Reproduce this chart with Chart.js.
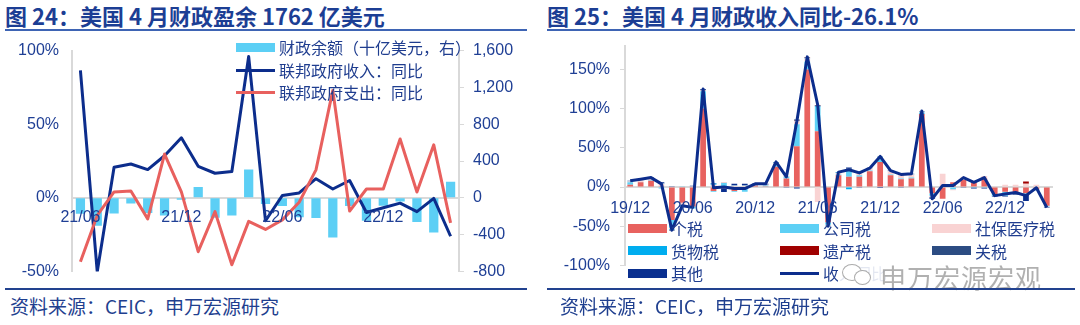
<!DOCTYPE html>
<html>
<head>
<meta charset="utf-8">
<script src="https://cdn.jsdelivr.net/npm/chart.js@4.4.1/dist/chart.umd.min.js"></script>
<style>
  html, body { margin: 0; padding: 0; background: #fff; width: 1080px; height: 325px; overflow: hidden;
    font-family: "Noto Sans CJK SC", "Noto Sans", sans-serif; }
  .title { position: absolute; top: -1px; font-weight: bold; font-size: 22px; color: #1C3E94; white-space: nowrap; }
  .rule { position: absolute; top: 29px; height: 2px; background: #3E64B4; }
  .foot { position: absolute; top: 288px; height: 2px; background: #22428F; }
  .src { position: absolute; top: 292px; font-size: 19px; color: #1F3F8F; white-space: nowrap; }
  canvas { position: absolute; top: 0; }
  .lg { position: absolute; font-size: 16px; color: #1F3D8F; white-space: nowrap; line-height: 20px; }
  .sw { position: absolute; left: 0; width: 39px; }
  .lt { position: absolute; left: 43px; top: -10px; }
  .wm { position: absolute; left: 838px; top: 261px; width: 212px; height: 27px; background: rgba(255,255,255,0.88); }
  .wm span { position: absolute; left: 42px; top: -3px; font-size: 26px; color: rgba(150,150,150,0.75); letter-spacing: 1px; }
  .wm i { position: absolute; border: 1.5px solid rgba(150,150,150,0.8); border-radius: 50%; background: #fff; }
</style>
</head>
<body>
<div class="title" style="left:5px">图 24：美国 4 月财政盈余 1762 亿美元</div>
<div class="rule" style="left:5px;width:522px"></div>
<div class="title" style="left:547px">图 25：美国 4 月财政收入同比-26.1%</div>
<div class="rule" style="left:547px;width:528px"></div>

<canvas id="c24" width="540" height="290" style="left:0"></canvas>
<canvas id="c25" width="540" height="290" style="left:540px"></canvas>
<div id="lg24"></div>
<div id="lg25"></div>

<div class="wm"><i style="left:4px;top:3px;width:18px;height:15px"></i><i style="left:16px;top:9px;width:15px;height:13px"></i><span>申万宏源宏观</span></div>

<div class="foot" style="left:5px;width:522px"></div>
<div class="foot" style="left:547px;width:528px"></div>
<div class="src" style="left:10px">资料来源：CEIC，申万宏源研究</div>
<div class="src" style="left:560px">资料来源：CEIC，申万宏源研究</div>

<script>
// ---------- 图24 财政余额与收支同比 ----------
const months24 = ['21/06','21/07','21/08','21/09','21/10','21/11','21/12',
  '22/01','22/02','22/03','22/04','22/05','22/06','22/07','22/08','22/09','22/10','22/11','22/12',
  '23/01','23/02','23/03','23/04'];
// 财政余额（十亿美元）
const balance = [-174,-303,-171,-62,-165,-191,-21,119,-217,-193,308,-66,-89,-211,-220,-430,-88,-249,-85,-39,-262,-378,176];
// 联邦政府收入同比（%）
const revenueYoY = [86.6,-50.2,20.8,23,19.2,28.6,40.8,21.4,16.7,17.9,96,-15.6,1.6,3.3,13,6,11.8,-10,-6.7,-3.6,-9.4,-0.4,-26.1];
// 联邦政府支出同比（%）
const outlayYoY = [-43.5,-12,4,4.7,-14.3,29.7,4,-36.6,-9.4,-45.5,-16,-21.5,-15,-3,19,73,-9,6,6,40,4,36,-17];
const names24 = ['财政余额（十亿美元，右）','联邦政府收入：同比','联邦政府支出：同比'];

// ---------- 图25 财政收入同比及分项拉动 ----------
const months25 = ['19/12','20/01','20/02','20/03','20/04','20/05','20/06','20/07','20/08','20/09','20/10','20/11','20/12',
  '21/01','21/02','21/03','21/04','21/05','21/06','21/07','21/08','21/09','21/10','21/11','21/12',
  '22/01','22/02','22/03','22/04','22/05','22/06','22/07','22/08','22/09','22/10','22/11','22/12',
  '23/01','23/02','23/03','23/04'];
const indivTax  = [3,6,8,1,-42,-20,-25,100,-5,-2,-5,-1,2,1,26,11,52,150,71,-45,15,13,13,20,32,15,10,11,93,-8,-15,6,9,5,11,-9,-6,-8,-8,-3,-24];
const corpTax   = [3,0.5,0.5,-2,-10,1,-2,22,-1,5,-1,-5,1,1,3,2,28,10,31,-3,1,9,2,1,6,1,1,1,2,-3,0,-3,-0.5,2,-1,-2,-5,-1,-1,-1,-1];
const socialTax = [1,2,2,3,-2,-3,1,1,3,1,1.5,1.5,0.5,1,1.5,0.5,4,4,-19,-1,2,1,3,3,0.5,4,5,4,1,-2,17,-1,4,1,3,1,3,3,4,3,-0.5];
const exciseTax = [0.5,0.5,0.5,0.5,-1,-1,-0.5,0.5,1.5,-0.5,0.5,0.5,-0.5,0,0.5,-0.5,0.5,1,1,-0.5,0.5,-3,0,0.3,0.3,0.3,0,0.3,0.3,0,0,0,0,-1,0,0,0,0,0,0,0];
const estateTax = [0,0.2,0.2,0,0,0,0,0.3,0,0,0,0,0,0,0,0,0.5,0.5,0.5,0,0,0,0,0,0,0,0,0,0,0,0,0,0,0,0,0,0,0,3,0,0];
const customs   = [0.3,0.3,0.3,0.3,-0.5,-0.5,0,0.2,0.2,0.3,0.3,0.3,0.3,0.5,0.5,0.3,1,0.5,0.5,0,0.3,0.5,0.3,0.3,0.3,0.3,0.3,0.3,0.3,0,0,0,0,0,0,0,-0.5,-0.5,-1,0,0];
const otherTax  = [0.2,0.5,0.5,1.2,1,-0.5,0.5,1,0.3,-3.8,1.7,1.7,0.7,0.5,0.5,-0.3,-2,0,0.5,-0.5,0.2,1.5,-0.3,-0.6,-0.1,0.4,-0.3,0.4,0.4,-2,0,0,-0.5,-1,-1,-1,-0.5,-0.5,-8,0,-0.6];
const totalYoY  = [8,10,12,4,-55,-24,-26,125,-1,0,-2,-2,4,4,32,13,84,166,105,-50,19,22,18,24,39,21,16,17,97,-15,2,2,12,6,12,-11,-9,-7,-11,-1,-26.1];
const names25 = ['个税','公司税','社保医疗税','货物税','遗产税','关税','其他','收入同比'];

// ---------- shared style ----------
Chart.defaults.font.family = '"Liberation Sans", Arial, sans-serif';
Chart.defaults.font.size = 16;
Chart.defaults.color = '#1F3F95';
Chart.defaults.animation = false;

const AXIS_GREY = '#D9D9D9';
const NAVY = '#0C2D8C';
const RED = '#E8605E';
const CYAN = '#5CCFF5';
const pct = v => v + '%';

function fixWidth(w) { return scale => { scale.width = w; }; }

// ---------- chart 24 ----------
new Chart(document.getElementById('c24'), {
  data: {
    labels: months24,
    datasets: [
      { type: 'bar', label: names24[0], data: balance, yAxisID: 'y1', backgroundColor: CYAN,
        barPercentage: 0.55, categoryPercentage: 1, order: 3 },
      { type: 'line', label: names24[1], data: revenueYoY, yAxisID: 'y', borderColor: NAVY, borderWidth: 3,
        pointRadius: 0, tension: 0, borderJoinStyle: 'round', order: 2 },
      { type: 'line', label: names24[2], data: outlayYoY, yAxisID: 'y', borderColor: RED, borderWidth: 3,
        pointRadius: 0, tension: 0, borderJoinStyle: 'round', order: 1 }
    ]
  },
  options: {
    responsive: false,
    layout: { padding: { left: 0, right: 0, top: 50.7, bottom: 16 } },
    plugins: { legend: { display: false }, tooltip: { enabled: false } },
    scales: {
      x: {
        type: 'category', offset: true, position: { y: 0 },
        grid: { display: false, drawTicks: true, tickLength: 8 },
        border: { display: true, color: AXIS_GREY, width: 2 },
        ticks: { autoSkip: false, maxRotation: 0, padding: 2, z: 1,
          callback: (v, i) => (i % 6 === 0 ? months24[i] : '') },
        afterFit: s => { s.height = 0; }
      },
      y: {
        position: 'left', min: -50, max: 100,
        ticks: { stepSize: 50, callback: pct, padding: 5 },
        grid: { display: false, drawTicks: true, tickLength: 8 },
        border: { display: true, color: AXIS_GREY, width: 2 },
        afterFit: fixWidth(72)
      },
      y1: {
        position: 'right', min: -800, max: 1600,
        ticks: { stepSize: 400, padding: 9, callback: v => v.toLocaleString('en-US') },
        grid: { drawOnChartArea: false, drawTicks: true, tickLength: 5, color: AXIS_GREY },
        border: { display: true, color: AXIS_GREY, width: 2 },
        afterFit: fixWidth(81)
      }
    }
  }
});

// ---------- chart 25 ----------
const partColors = ['#E8625F', '#5ED0F5', '#F9D3D3', '#00ADEF', '#A00000', '#2C4C82', '#0A2F8F'];
const parts = [indivTax, corpTax, socialTax, exciseTax, estateTax, customs, otherTax];
const barSets = parts.map((arr, k) => ({
  type: 'bar', label: names25[k], data: arr, backgroundColor: partColors[k], stack: 'tax',
  barPercentage: 0.55, categoryPercentage: 1, order: 2
}));

new Chart(document.getElementById('c25'), {
  data: {
    labels: months25,
    datasets: barSets.concat([
      { type: 'line', label: names25[7], data: totalYoY, borderColor: NAVY, borderWidth: 3,
        pointRadius: 0, tension: 0, borderJoinStyle: 'round', order: 1 }
    ])
  },
  options: {
    responsive: false,
    layout: { padding: { left: 0, right: 28, top: 45.9, bottom: 24.6 } },
    plugins: { legend: { display: false }, tooltip: { enabled: false } },
    scales: {
      x: {
        type: 'category', offset: true, stacked: true, position: { y: 0 },
        grid: { display: false, drawTicks: true, tickLength: 8 },
        border: { display: true, color: AXIS_GREY, width: 2 },
        ticks: { autoSkip: false, maxRotation: 0, padding: 4, z: 1,
          callback: (v, i) => (i % 6 === 0 ? months25[i] : '') },
        afterFit: s => { s.height = 0; }
      },
      y: {
        position: 'left', min: -100, max: 180, stacked: true,
        ticks: { stepSize: 50, callback: pct, padding: 10 },
        afterBuildTicks: s => { s.ticks = s.ticks.filter(t => t.value % 50 === 0); },
        grid: { drawOnChartArea: false, drawTicks: true, tickLength: 5, color: AXIS_GREY },
        border: { display: true, color: AXIS_GREY, width: 2 },
        afterFit: fixWidth(85)
      }
    }
  }
});

// ---------- legends ----------
function legendItem(parent, x, y, label, color, isLine) {
  const d = document.createElement('div');
  d.className = 'lg';
  d.style.left = x + 'px';
  d.style.top = y + 'px';
  const sw = document.createElement('div');
  sw.className = 'sw';
  sw.style.background = color;
  sw.style.height = (isLine ? 3 : 9) + 'px';
  sw.style.top = (isLine ? -1.5 : -4.5) + 'px';
  const t = document.createElement('div');
  t.className = 'lt';
  t.textContent = label;
  d.appendChild(sw);
  d.appendChild(t);
  parent.appendChild(d);
}
const lg24 = document.getElementById('lg24');
legendItem(lg24, 236, 47, names24[0], CYAN, false);
legendItem(lg24, 236, 70, names24[1], NAVY, true);
legendItem(lg24, 236, 92, names24[2], RED, true);

const lg25 = document.getElementById('lg25');
const colX = [628, 780, 932];
const rowY = [228, 250.5, 273];
names25.forEach((n, k) => {
  const isLine = k === 7;
  legendItem(lg25, colX[k % 3], rowY[Math.floor(k / 3)], n, isLine ? NAVY : partColors[k], isLine);
});
</script>
</body>
</html>
